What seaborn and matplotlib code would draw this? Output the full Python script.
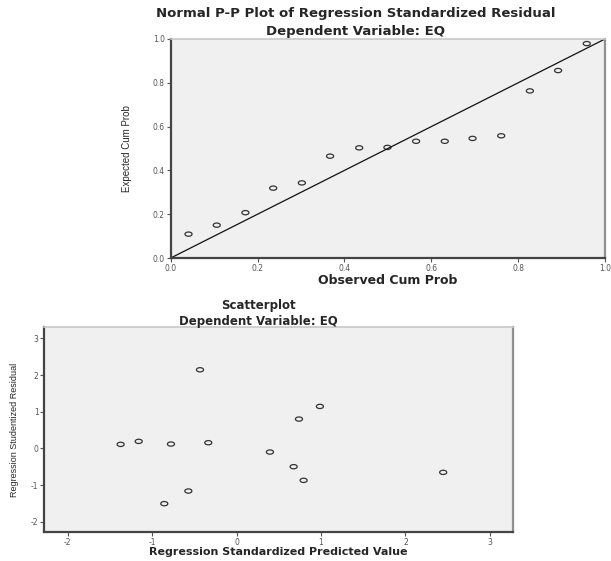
import numpy as np
import pandas as pd
import matplotlib
matplotlib.use("Agg")
import matplotlib.pyplot as plt
from matplotlib.path import Path
import seaborn as sns

# ---- data ----
observed_cum_prob = [0.041, 0.106, 0.172, 0.236, 0.302, 0.367, 0.434, 0.499,
                     0.565, 0.631, 0.695, 0.761, 0.827, 0.892, 0.958]
expected_cum_prob = [0.109, 0.150, 0.207, 0.319, 0.343, 0.465, 0.503, 0.505,
                     0.533, 0.533, 0.546, 0.558, 0.763, 0.856, 0.979]
ref_line = [0.0, 1.0]

pred_value = [-1.373, -1.159, -0.777, -0.433, -0.335, -0.571, -0.856,
              0.395, 0.676, 0.739, 0.794, 0.987, 2.447]
stud_resid = [0.109, 0.191, 0.118, 2.145, 0.155, -1.164, -1.509,
              -0.100, -0.500, 0.800, -0.873, 1.145, -0.655]

pp_ticks = [0.0, 0.2, 0.4, 0.6, 0.8, 1.0]
pp_ticklabels = ["0.0", "0.2", "0.4", "0.6", "0.8", "1.0"]
sc_xticks = [-2, -1, 0, 1, 2, 3]
sc_yticks = [-2, -1, 0, 1, 2, 3]

sns.set_style("white")
plt.rcParams['font.family'] = ['DejaVu Sans']
plt.rcParams['axes.unicode_minus'] = False

fig = plt.figure(figsize=(6.11, 5.61), dpi=100)

theta = np.linspace(0, 2 * np.pi, 41)
ell = Path(np.column_stack([np.cos(theta), 0.6 * np.sin(theta)]))

narrow = ['Liberation Sans Narrow', 'Liberation Sans', 'DejaVu Sans']


def style_axes(ax):
    ax.set_facecolor('#f0f0f0')
    ax.spines['left'].set_color('#444444')
    ax.spines['bottom'].set_color('#444444')
    ax.spines['left'].set_linewidth(1.6)
    ax.spines['bottom'].set_linewidth(1.6)
    ax.spines['top'].set_color('#c8c8c8')
    ax.spines['top'].set_linewidth(1.2)
    ax.spines['right'].set_color('#909090')
    ax.spines['right'].set_linewidth(1.6)
    for s in ax.spines.values():
        s.set_visible(True)
    ax.tick_params(direction='out', length=3, width=0.8, color='#555555',
                   labelsize=5.5, labelcolor='#555555', pad=1.2,
                   bottom=True, left=True)


# ---- top: P-P plot ----
ax1 = fig.add_axes([0.2794, 0.5401, 0.7108, 0.3904])
pp = pd.DataFrame({'obs': observed_cum_prob, 'exp': expected_cum_prob})
sns.lineplot(x=ref_line, y=ref_line, ax=ax1, color='#111111', linewidth=0.9)
sns.scatterplot(data=pp, x='obs', y='exp', ax=ax1, marker=ell, s=26,
                facecolor='none', edgecolor='#333333', linewidth=0.9)
ax1.set_xlim(0, 1)
ax1.set_ylim(0, 1)
ax1.set_xticks(pp_ticks)
ax1.set_xticklabels(pp_ticklabels)
ax1.set_yticks(pp_ticks)
ax1.set_yticklabels(pp_ticklabels)
style_axes(ax1)
ax1.set_xlabel('Observed Cum Prob', fontsize=9, fontweight='bold', va='center')
ax1.xaxis.set_label_coords(0.5, -0.102)
ax1.set_ylabel('Expected Cum Prob', fontsize=7, family=narrow, va='center')
ax1.yaxis.set_label_coords(-0.1013, 0.5)

fig.text(356 / 611, 1 - 13 / 561, 'Normal P-P Plot of Regression Standardized Residual',
         ha='center', va='center', fontsize=9.5, fontweight='bold')
fig.text(356 / 611, 1 - 31 / 561, 'Dependent Variable: EQ',
         ha='center', va='center', fontsize=9.5, fontweight='bold')

# ---- bottom: scatterplot ----
ax2 = fig.add_axes([0.0725, 0.0512, 0.7666, 0.3664])
sc = pd.DataFrame({'pred': pred_value, 'resid': stud_resid})
sns.scatterplot(data=sc, x='pred', y='resid', ax=ax2, marker=ell, s=26,
                facecolor='none', edgecolor='#333333', linewidth=0.9)
ax2.set_xlim(-2.277, 3.27)
ax2.set_ylim(-2.29, 3.32)
ax2.set_xticks(sc_xticks)
ax2.set_yticks(sc_yticks)
style_axes(ax2)
ax2.set_xlabel('Regression Standardized Predicted Value', fontsize=8,
               fontweight='bold', va='center')
ax2.xaxis.set_label_coords(0.5, -0.0958)
ax2.set_ylabel('Regression Studentized Residual', fontsize=6.5, family=narrow,
               va='center')
ax2.yaxis.set_label_coords(-0.0626, 0.5)

fig.text(258 / 611, 1 - 305 / 561, 'Scatterplot',
         ha='center', va='center', fontsize=8.5, fontweight='bold')
fig.text(258 / 611, 1 - 321 / 561, 'Dependent Variable: EQ',
         ha='center', va='center', fontsize=8.5, fontweight='bold')

fig.savefig('out.png', dpi=100, facecolor='white')
